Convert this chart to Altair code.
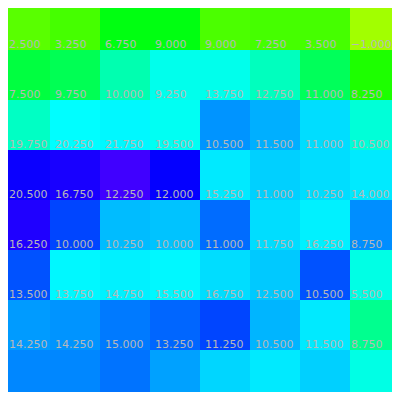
import altair as alt
import pandas as pd

cols = list(range(8))
rows = list(range(8))

# cell values, row by row (top to bottom)
row0 = [-3.25, -2.5, 0.75, 0.75, -2.75, -2.5, -2.5, -6.0]
row1 = [2.5, 3.25, 6.75, 9.0, 9.0, 7.25, 3.5, -1.0]
row2 = [7.5, 9.75, 10.0, 9.25, 13.75, 12.75, 11.0, 8.25]
row3 = [19.75, 20.25, 21.75, 19.5, 10.5, 11.5, 11.0, 10.5]
row4 = [20.5, 16.75, 12.25, 12.0, 15.25, 11.0, 10.25, 14.0]
row5 = [16.25, 10.0, 10.25, 10.0, 11.0, 11.75, 16.25, 8.75]
row6 = [13.5, 13.75, 14.75, 15.5, 16.75, 12.5, 10.5, 5.5]
row7 = [14.25, 14.25, 15.0, 13.25, 11.25, 10.5, 11.5, 8.75]
grid = [row0, row1, row2, row3, row4, row5, row6, row7]

records = []
for r, vals in zip(rows, grid):
    for c, v in zip(cols, vals):
        records.append({"row": r, "col": c, "value": v})
df = pd.DataFrame(records)

x = alt.X("col:O", axis=None, scale=alt.Scale(paddingInner=0, paddingOuter=0))
y = alt.Y("row:O", axis=None, scale=alt.Scale(paddingInner=0, paddingOuter=0))

rect = alt.Chart(df).mark_rect().encode(
    x=x,
    y=y,
    color=alt.Color(
        "value:Q",
        legend=None,
        scale=alt.Scale(
            domain=[-6, 21.75],
            range=["hsl(82,100%,50%)", "hsl(255,100%,50%)"],
            interpolate="hsl",
        ),
    ),
)


def labels(cond, dx):
    # labels sit at the top edge of each cell (first row's labels fall outside the view)
    return alt.Chart(df).transform_filter(
        (alt.datum.row >= 1) & cond
    ).mark_text(
        align="left", baseline="alphabetic", dx=dx, dy=-2,
        font="DejaVu Sans", fontSize=11, color="#b8b8b8",
    ).encode(
        x=alt.X("col:O", axis=None, bandPosition=0),
        y=alt.Y("row:O", axis=None, bandPosition=0),
        text=alt.Text("value:Q", format=".3f"),
    )


text_first = labels(alt.datum.col == 0, 9)
text_mid = labels((alt.datum.col > 0) & (alt.datum.col < 7), 5)
text_last = labels(alt.datum.col == 7, 1)

chart = (rect + text_first + text_mid + text_last).properties(
    width=400, height=400,
    autosize=alt.AutoSizeParams(type="none"),
    padding={"left": -8, "top": -8, "right": -8, "bottom": -8},
).configure_view(stroke=None)

chart.save("out.html", embed_options={"renderer": "svg", "actions": False})
